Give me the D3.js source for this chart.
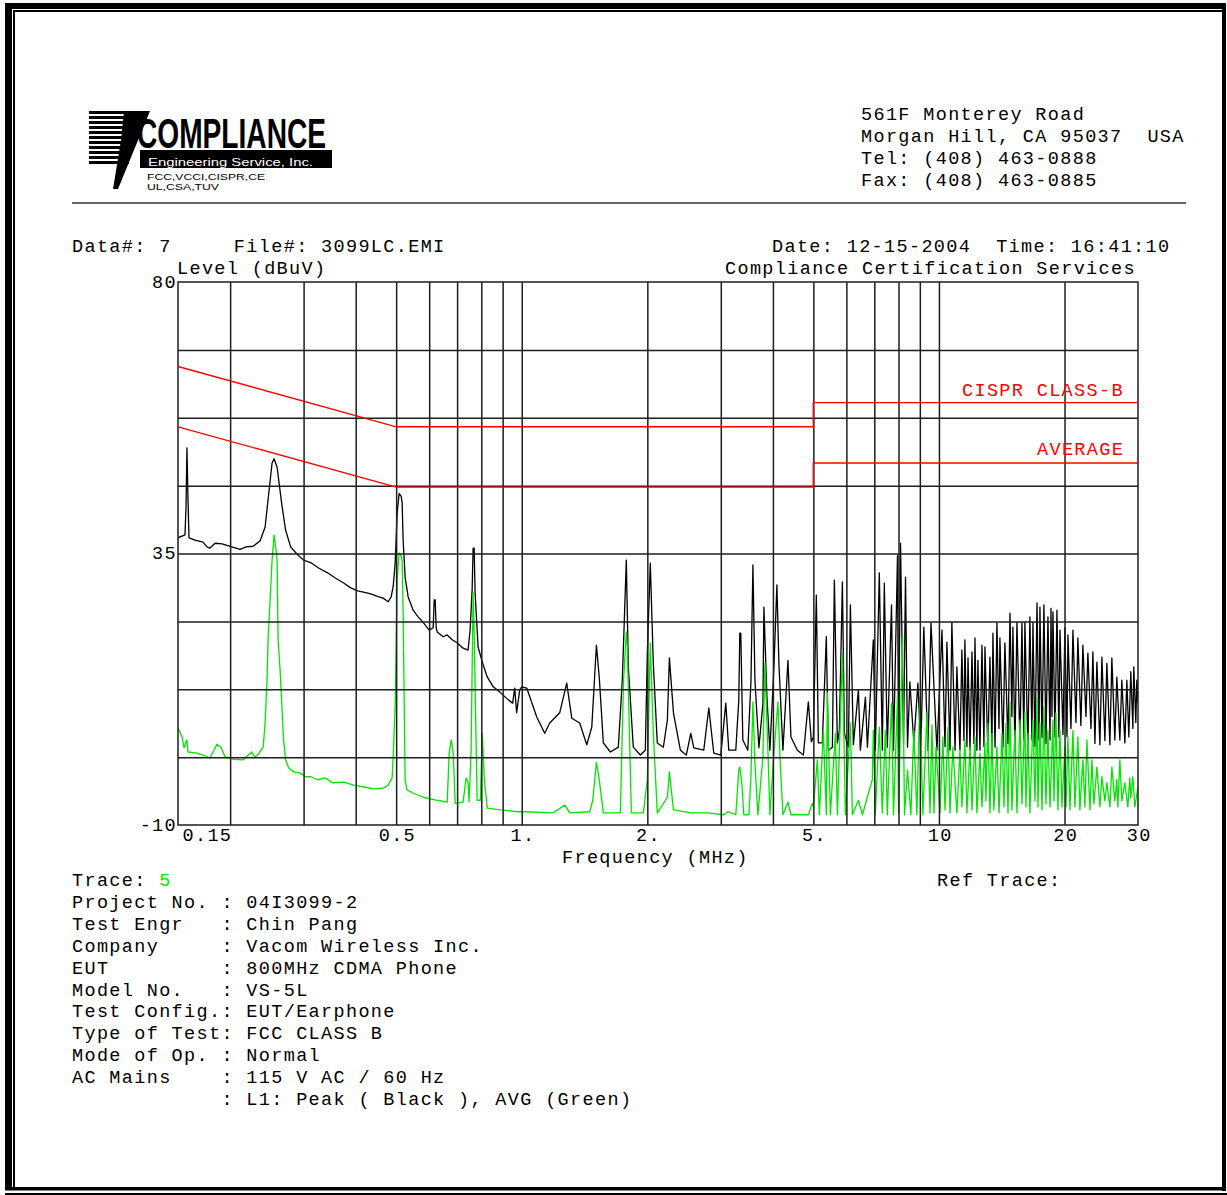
<!DOCTYPE html>
<html><head><meta charset="utf-8">
<script src="https://cdn.jsdelivr.net/npm/d3@7"></script>
<style>body{margin:0;background:#fff}svg{display:block}text{white-space:pre}</style>
</head><body>
<svg id="c" width="1227" height="1195"></svg>
<script>
// ---------- data ----------
const xTickValues = [0.15, 0.5, 1, 2, 5, 10, 20, 30];
const xTickLabels = ["0.15", "0.5", "1.", "2.", "5.", "10", "20", "30"];
const yTickValues = [80, 35, -10];
const yTickLabels = ["80", "35", "-10"];
const gridFreqs = [0.2, 0.3, 0.4, 0.5, 0.6, 0.7, 0.8, 0.9, 1, 2, 3, 4, 5, 6, 7, 8, 9, 10, 20];
const gridLevels = [1.25, 12.5, 23.75, 35, 46.25, 57.5, 68.75];
const quasiPeakLimit = [[0.15, 66], [0.5, 56], [5, 56], [5, 60], [30, 60]];
const averageLimit = [[0.15, 56], [0.5, 46], [5, 46], [5, 50], [30, 50]];
const limitLabels = ["CISPR CLASS-B", "AVERAGE"];

const peakTrace = [
[0.150,37.6],[0.1559,38.1],[0.1568,42.7],[0.1576,52.5],[0.1585,44.0],[0.1594,37.6],
[0.1648,37.2],[0.1722,36.9],[0.176,36.1],[0.179,35.9],[0.184,36.7],[0.1914,36.6],[0.200,36.2],
[0.2113,35.7],[0.2185,36.1],[0.2271,36.2],[0.236,37.1],[0.2426,39.4],[0.2466,43.9],[0.2521,50.0],
[0.2549,50.7],[0.2592,49.3],[0.2657,43.4],[0.2716,38.9],[0.2793,36.1],[0.2902,34.8],[0.300,33.9],
[0.3118,33.5],[0.3259,32.6],[0.3425,31.8],[0.358,30.9],[0.3743,30.1],[0.3891,29.3],[0.4044,28.8],
[0.4227,28.5],[0.4346,28.3],[0.4541,27.8],[0.4655,27.6],[0.4784,27.0],[0.4864,27.8],[0.4918,29.5],
[0.4973,33.4],[0.5028,41.7],[0.5083,44.9],[0.514,44.5],[0.5168,43.4],[0.5197,37.2],[0.5254,31.1],
[0.5343,27.8],[0.5492,25.6],[0.5646,24.5],[0.5803,23.6],[0.600,22.3],[0.6134,22.7],[0.6168,27.3],
[0.6202,27.3],[0.6236,22.7],[0.627,22.0],[0.6482,21.2],[0.6627,21.5],[0.6812,20.7],[0.700,20.2],
[0.7235,19.3],[0.7437,19.0],[0.752,22.3],[0.7605,29.0],[0.7647,35.9],[0.769,35.9],[0.7731,28.5],
[0.786,19.5],[0.8044,17.0],[0.8269,14.5],[0.8548,12.9],[0.8901,11.9],[0.9302,10.7],[0.9511,10.2],
[0.9619,12.7],[0.9723,8.6],[0.989,12.4],[1.0,12.9],[1.028,12.7],[1.0864,7.9],[1.1353,5.2],
[1.167,6.9],[1.233,8.6],[1.2818,13.5],[1.318,7.7],[1.377,6.9],[1.4316,3.3],[1.4719,6.2],
[1.510,19.8],[1.534,14.5],[1.569,3.6],[1.631,2.1],[1.704,2.9],[1.742,14.0],[1.781,33.9],
[1.801,16.2],[1.851,2.9],[1.924,1.6],[1.978,2.4],[2.0,18.5],[2.033,33.4],[2.067,16.8],
[2.113,3.6],[2.185,2.9],[2.234,7.4],[2.259,17.7],[2.31,8.6],[2.400,2.4],[2.48,1.6],[2.542,5.2],
[2.585,2.8],[2.731,2.4],[2.808,9.4],[2.886,1.9],[3.0,1.6],[3.084,10.2],[3.135,2.4],[3.259,2.4],
[3.313,10.7],[3.332,21.8],[3.350,21.8],[3.388,4.1],[3.482,2.4],[3.543,13.7],[3.582,33.1],
[3.622,14.0],[3.702,2.8],[3.785,10.2],[3.806,26.1],[3.870,11.2],[3.934,2.4],[4.022,16.2],
[4.089,29.8],[4.134,16.8],[4.227,2.4],[4.346,17.3],[4.418,4.6],[4.577,2.4],[4.732,1.6],
[4.864,10.4],[4.945,3.8],[5.0,4.6],[5.083,28.1],[5.14,3.6],[5.254,3.6],[5.371,21.2],[5.432,2.4],
[5.554,2.9],[5.615,30.6],[5.709,3.6],[5.772,5.7],[5.869,30.3],[5.934,5.2],[6.067,2.9],[6.134,26.5],
[6.236,3.3],[6.411,12.4],[6.482,2.4],[6.664,11.2],[6.738,2.9],[6.962,20.7],[7.039,2.4],[7.196,31.8],
[7.316,2.4],[7.397,30.1],[7.52,2.9],[7.697,26.5],[7.782,2.4],[7.956,34.7],[8.0,2.9],[8.089,36.7],
[8.224,3.6],[8.315,31.1],[8.407,2.9],[8.517,13.7],[8.707,3.6],[8.901,13.5],[9.05,2.9],[9.2,22.8],
[9.41,2.4],[9.57,23.5],[9.89,2.4],[10.17,22.3],[10.34,3.0],[10.45,20.3],[10.63,2.4],[10.74,23.6],
[10.93,2.4],[11.04,16.2],[11.23,2.4],[11.35,19.0],[11.48,4.0],[11.54,20.7],[11.67,3.0],[11.74,17.7],
[11.87,2.4],[12.00,18.7],[12.13,3.5],[12.20,21.0],[12.33,2.4],[12.40,17.3],[12.54,2.4],[12.68,19.8],
[12.82,3.0],[12.89,19.5],[13.10,2.4],[13.25,17.8],[13.40,3.0],[13.47,21.8],[13.63,2.9],[13.77,23.5],
[13.93,6.0],[14.00,21.0],[14.24,2.9],[14.39,20.2],[14.64,3.5],[14.80,25.1],[14.96,8.0],[15.04,22.8],
[15.21,2.9],[15.38,23.6],[15.64,3.5],[15.81,23.5],[15.98,4.1],[16.07,23.6],[16.34,2.9],[16.52,24.5],
[16.71,4.1],[16.80,23.6],[16.99,3.0],[17.18,26.8],[17.37,4.1],[17.46,26.1],[17.66,4.5],[17.85,26.5],
[18.05,3.5],[18.25,24.5],[18.46,4.1],[18.56,25.9],[18.66,8.0],[18.76,25.3],[18.97,4.6],[19.18,25.6],
[19.39,4.6],[19.50,22.3],[19.83,5.0],[20.04,22.7],[20.27,4.6],[20.38,21.5],[20.72,6.0],[20.95,22.3],
[21.30,7.0],[21.53,21.0],[21.89,6.5],[22.13,19.8],[22.51,8.0],[22.75,18.5],[23.14,6.0],[23.39,18.7],
[23.65,3.5],[23.91,17.0],[24.31,3.3],[24.58,17.8],[24.99,4.0],[25.26,16.8],[25.69,3.3],[25.97,17.7],
[26.40,4.1],[26.69,14.5],[27.14,4.1],[27.44,14.0],[27.90,3.6],[28.21,14.0],[28.52,4.6],[28.83,15.4],
[29.16,6.0],[29.31,16.2],[29.64,7.0],[29.80,14.0],[30.0,10.2]
];

const avgTrace = [
[0.150,6.1],[0.1534,4.6],[0.1551,2.8],[0.1568,3.8],[0.1576,4.1],[0.1585,2.1],[0.1666,1.9],
[0.1722,1.6],[0.1788,1.1],[0.183,2.4],[0.186,3.4],[0.1903,2.8],[0.1945,1.3],[0.2033,0.9],
[0.2149,0.8],[0.2209,1.6],[0.2254,2.1],[0.2288,1.3],[0.2327,1.6],[0.2400,2.9],[0.2426,6.9],
[0.2453,14.5],[0.2466,20.7],[0.2521,33.9],[0.2549,38.1],[0.2577,35.6],[0.2592,33.9],[0.2606,20.7],
[0.2635,15.7],[0.2686,4.1],[0.2716,0.8],[0.2762,-0.5],[0.2839,-1.2],[0.2951,-1.4],[0.3033,-2.0],
[0.3118,-2.0],[0.3242,-2.5],[0.3381,-2.2],[0.352,-3.0],[0.3743,-2.9],[0.3956,-3.4],[0.4181,-3.7],
[0.4418,-4.0],[0.4655,-3.9],[0.4784,-3.4],[0.489,-2.2],[0.4918,1.3],[0.4973,9.6],[0.5028,30.6],
[0.5083,35.1],[0.514,34.6],[0.5168,33.9],[0.5197,25.1],[0.5254,-2.5],[0.5311,-4.2],[0.5492,-4.7],
[0.5803,-5.4],[0.627,-5.9],[0.6627,-6.2],[0.6701,1.9],[0.6776,4.1],[0.6851,1.9],[0.6926,-6.4],
[0.7235,-6.2],[0.7356,-2.2],[0.7437,-3.0],[0.7479,-6.2],[0.7562,2.4],[0.7647,28.5],[0.769,21.8],
[0.7818,-5.9],[0.7956,-5.9],[0.8044,5.2],[0.8134,-2.5],[0.8269,-7.2],[0.8901,-7.5],[0.9727,-7.8],
[1.028,-7.8],[1.187,-8.0],[1.268,-6.7],[1.304,-8.0],[1.455,-7.8],[1.48,-5.9],[1.510,0.4],[1.534,-2.5],
[1.569,-8.0],[1.723,-8.0],[1.754,14.0],[1.781,22.0],[1.791,19.5],[1.831,-8.0],[1.956,-8.0],[2.0,-2.5],
[2.033,20.2],[2.067,5.2],[2.113,-8.0],[2.234,-5.4],[2.259,-1.2],[2.31,-7.5],[2.542,-8.0],[2.79,-8.0],
[3.05,-8.3],[3.118,-7.8],[3.259,-8.3],[3.313,-0.9],[3.332,-0.4],[3.369,-3.0],[3.406,-8.3],[3.503,-8.3],
[3.543,-2.0],[3.582,10.4],[3.622,0.3],[3.682,-8.3],[3.785,1.3],[3.827,16.8],[3.891,2.4],[3.934,-8.3],
[4.022,1.9],[4.112,10.4],[4.158,1.3],[4.227,-8.3],[4.346,-6.2],[4.418,-8.3],[4.864,-8.3],[4.973,-6.4],
[5.0,-7.0],[5.112,0.8],[5.169,-8.3],[5.284,5.7],[5.371,-8.3],[5.401,11.9],[5.492,-8.3],[5.646,5.2],
[5.709,-8.3],[5.869,18.5],[5.967,-8.3],[6.134,6.9],[6.202,-8.3],[6.411,-5.9],[6.555,-8.3],[6.923,-2.5],
[6.962,5.7],[7.039,-8.3],[7.196,6.2],[7.316,-8.0],[7.437,5.7],[7.52,-8.3],[7.697,10.2],[7.782,-8.3],
[7.956,11.2],[8.0,-8.0],[8.178,21.2],[8.269,-8.3],[8.407,-0.9],[8.564,-8.3],[8.707,5.7],[8.852,-8.3],
[9.0,11.2],[9.15,-8.3],[9.36,8.6],[9.52,-8.0],[9.62,6.6],[9.73,-8.0],[9.84,2.9],[10.06,-8.0],
[10.22,4.6],[10.34,-7.5],[10.51,6.2],[10.63,-8.0],[10.80,2.9],[11.04,-8.0],[11.23,2.4],[11.35,-7.0],
[11.54,4.1],[11.67,-8.0],[11.87,2.9],[12.00,-7.5],[12.20,4.6],[12.33,-8.0],[12.54,1.9],[12.68,-7.0],
[12.89,3.6],[12.96,-6.0],[13.10,6.9],[13.25,-8.0],[13.40,5.2],[13.54,-7.5],[13.77,2.9],[13.93,-8.0],
[14.16,5.2],[14.32,-7.0],[14.47,6.9],[14.64,-8.0],[14.80,10.4],[14.96,-7.5],[15.21,5.7],[15.38,-8.0],
[15.64,7.4],[15.81,-6.5],[16.07,8.6],[16.16,-7.0],[16.34,5.2],[16.52,-8.0],[16.80,7.4],[16.99,-6.0],
[17.18,11.1],[17.27,-7.0],[17.46,6.9],[17.66,-7.5],[17.85,9.6],[18.05,-6.5],[18.25,5.7],[18.46,-7.0],
[18.76,7.4],[18.87,-6.0],[19.07,8.6],[19.28,-7.5],[19.50,5.7],[19.72,-7.0],[20.04,2.9],[20.16,-7.0],
[20.38,4.6],[20.61,-7.5],[20.95,5.7],[21.18,-7.0],[21.53,4.6],[21.77,-7.5],[22.13,0.8],[22.38,-7.0],
[22.63,4.1],[23.01,-7.5],[23.26,0.8],[23.52,-6.5],[23.91,-0.4],[24.31,-7.0],[24.58,-2.0],[24.99,-6.0],
[25.26,-3.0],[25.69,-7.0],[25.97,-0.4],[26.40,-6.0],[26.69,-2.5],[26.84,-7.0],[27.14,0.8],[27.44,-6.0],
[27.90,-3.0],[28.36,-7.0],[28.67,-2.2],[28.83,-5.5],[29.16,-2.0],[29.48,-7.0],[30.0,-3.7]
];

const addressLines = ["561F Monterey Road", "Morgan Hill, CA 95037  USA", "Tel: (408) 463-0888", "Fax: (408) 463-0885"];
const dataLine = "Data#: 7     File#: 3099LC.EMI";
const dateLine = "Date: 12-15-2004  Time: 16:41:10";
const yAxisTitle = "Level (dBuV)";
const siteTitle = "Compliance Certification Services";
const xAxisTitle = "Frequency (MHz)";
const traceLabel = "Trace: ";
const traceNumber = "5";
const refTraceLabel = "Ref Trace:";
const infoLabels = ["Project No.", "Test Engr", "Company", "EUT", "Model No.", "Test Config.", "Type of Test", "Mode of Op.", "AC Mains", ""];
const infoValues = ["04I3099-2", "Chin Pang", "Vacom Wireless Inc.", "800MHz CDMA Phone", "VS-5L", "EUT/Earphone", "FCC CLASS B", "Normal", "115 V AC / 60 Hz", "L1: Peak ( Black ), AVG (Green)"];

// ---------- drawing ----------
const svg = d3.select("#c");
const MONO = "'Liberation Mono', 'Courier New', monospace";
const FS = 18.5, LS = 1.35;
const GREEN = "#00e600", RED = "#ff0000", GRID = "#1e1e1e";

svg.append("rect").attr("width", 1227).attr("height", 1195).attr("fill", "#fff");

function mtext(x, y, s, color) {
  return svg.append("text").attr("x", x).attr("y", y)
    .attr("font-family", MONO).attr("font-size", FS).attr("letter-spacing", LS)
    .attr("fill", color || "#000").text(s);
}

// page frame
svg.append("rect").attr("x", 5).attr("y", 3).attr("width", 7).attr("height", 1187).attr("fill", "#000");
svg.append("rect").attr("x", 5).attr("y", 3).attr("width", 1221).attr("height", 6).attr("fill", "#000");
svg.append("rect").attr("x", 1222).attr("y", 3).attr("width", 4).attr("height", 1188).attr("fill", "#000");
svg.append("rect").attr("x", 5).attr("y", 1187).attr("width", 1221).attr("height", 3.5).attr("fill", "#000");
svg.append("rect").attr("x", 13).attr("y", 10).attr("width", 2).attr("height", 1177).attr("fill", "#000");
svg.append("rect").attr("x", 13).attr("y", 10).attr("width", 1209).attr("height", 2).attr("fill", "#000");
svg.append("rect").attr("x", 5).attr("y", 1193).attr("width", 1222).attr("height", 2).attr("fill", "#000");

// logo
const logo = svg.append("g");
for (let k = 0; k < 11; k++) {
  logo.append("rect").attr("x", 89).attr("y", 111 + k * 5).attr("width", 40).attr("height", 3).attr("fill", "#000");
}
logo.append("polygon").attr("points", "124,111 150,111 118,189 113,189 121,140").attr("fill", "#000");
logo.append("text").attr("x", 137).attr("y", 147.5).attr("font-family", "'Liberation Sans Narrow','Liberation Sans',Arial,sans-serif")
  .attr("font-weight", "bold").attr("font-size", 43).attr("textLength", 189).attr("lengthAdjust", "spacingAndGlyphs")
  .attr("fill", "#000").text("COMPLIANCE");
logo.append("rect").attr("x", 140).attr("y", 150).attr("width", 192).attr("height", 18).attr("fill", "#000");
logo.append("text").attr("x", 148).attr("y", 166.2).attr("font-family", "'Liberation Sans',Arial,sans-serif")
  .attr("font-size", 11).attr("textLength", 165).attr("lengthAdjust", "spacingAndGlyphs")
  .attr("fill", "#fff").text("Engineering Service, Inc.");
logo.append("text").attr("x", 147).attr("y", 180).attr("font-family", "'Liberation Sans',Arial,sans-serif")
  .attr("font-size", 9.5).attr("textLength", 118).attr("lengthAdjust", "spacingAndGlyphs").attr("fill", "#000").text("FCC,VCCI,CISPR,CE");
logo.append("text").attr("x", 147).attr("y", 190).attr("font-family", "'Liberation Sans',Arial,sans-serif")
  .attr("font-size", 9.5).attr("textLength", 72).attr("lengthAdjust", "spacingAndGlyphs").attr("fill", "#000").text("UL,CSA,TUV");

// address block
addressLines.forEach((s, i) => mtext(861, 120 + i * 22, s));
svg.append("line").attr("x1", 72).attr("x2", 1186).attr("y1", 203).attr("y2", 203).attr("stroke", "#333").attr("stroke-width", 1.5);

mtext(72, 252, dataLine);
mtext(772, 252, dateLine);
mtext(177, 274, yAxisTitle);
mtext(725, 274, siteTitle);

// plot
const P = { l: 178, r: 1138, t: 282, b: 825 };
const x = d3.scaleLog().domain([0.15, 30]).range([P.l, P.r]);
const y = d3.scaleLinear().domain([-10, 80]).range([P.b, P.t]);

svg.append("defs").append("clipPath").attr("id", "clip")
  .append("rect").attr("x", P.l).attr("y", P.t).attr("width", P.r - P.l).attr("height", P.b - P.t);

const line = d3.line().x(d => x(d[0])).y(d => y(d[1]));
const plot = svg.append("g").attr("clip-path", "url(#clip)");
plot.append("path").datum(peakTrace).attr("d", line).attr("fill", "none").attr("stroke", "#000").attr("stroke-width", 1.3).attr("stroke-linejoin", "round");
plot.append("path").datum(avgTrace).attr("d", line).attr("fill", "none").attr("stroke", GREEN).attr("stroke-width", 1.3).attr("stroke-linejoin", "round");

// grid
svg.append("g").attr("transform", `translate(0,${P.b})`)
  .call(d3.axisBottom(x).tickValues(gridFreqs).tickSize(-(P.b - P.t)).tickFormat(""))
  .call(g => g.select(".domain").remove())
  .selectAll("line").attr("stroke", GRID).attr("stroke-width", 1.5);
svg.append("g").attr("transform", `translate(${P.l},0)`)
  .call(d3.axisLeft(y).tickValues(gridLevels).tickSize(-(P.r - P.l)).tickFormat(""))
  .call(g => g.select(".domain").remove())
  .selectAll("line").attr("stroke", GRID).attr("stroke-width", 1.5);
svg.append("rect").attr("x", P.l).attr("y", P.t).attr("width", P.r - P.l).attr("height", P.b - P.t)
  .attr("fill", "none").attr("stroke", GRID).attr("stroke-width", 1.5);

// limit lines
[quasiPeakLimit, averageLimit].forEach(lim => {
  svg.append("path").datum(lim).attr("d", line).attr("fill", "none").attr("stroke", RED).attr("stroke-width", 1.4);
});
mtext(962, 396, limitLabels[0], RED);
mtext(1037, 455, limitLabels[1], RED);

// axes labels
const xa = svg.append("g").attr("transform", `translate(0,${P.b})`)
  .call(d3.axisBottom(x).tickValues(xTickValues).tickFormat((d, i) => xTickLabels[i]).tickSize(0));
xa.select(".domain").remove();
xa.selectAll("text").attr("y", 16).attr("dy", 0).attr("font-family", MONO).attr("font-size", FS)
  .attr("letter-spacing", LS).attr("fill", "#000")
  .attr("text-anchor", (d, i) => i === 0 ? "start" : "middle").attr("x", (d, i) => i === 0 ? 4 : 0.7);

const ya = svg.append("g").attr("transform", `translate(${P.l},0)`)
  .call(d3.axisLeft(y).tickValues(yTickValues).tickFormat((d, i) => yTickLabels[i]).tickSize(0));
ya.select(".domain").remove();
ya.selectAll("text").attr("x", -1).attr("dy", 0).attr("y", 5).attr("font-family", MONO).attr("font-size", FS)
  .attr("letter-spacing", LS).attr("fill", "#000");

mtext(562, 863, xAxisTitle);

// info block
const tr = mtext(72, 886, traceLabel);
tr.append("tspan").attr("fill", GREEN).text(traceNumber);
mtext(937, 886, refTraceLabel);
infoLabels.forEach((lab, i) => {
  mtext(72, 907.9 + i * 21.9, lab.padEnd(12, " ") + ": " + infoValues[i]);
});
</script></body></html>
